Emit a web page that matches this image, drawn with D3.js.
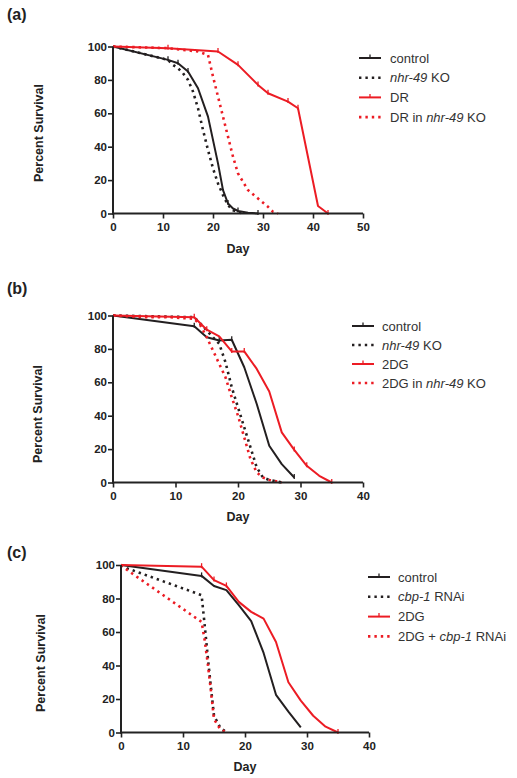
<!DOCTYPE html>
<html><head><meta charset="utf-8">
<script src="https://cdn.jsdelivr.net/npm/d3@7"></script>
<style>
body{margin:0;background:#fff;}
svg{font-family:"Liberation Sans",Arial,Helvetica,sans-serif;}
</style></head>
<body><svg id="chart" width="517" height="778"></svg>
<script>
// ---- Data ----
const yTicks = [0, 20, 40, 60, 80, 100];
const xTicksA = [0, 10, 20, 30, 40, 50];
const xTicksBC = [0, 10, 20, 30, 40];

// Panel (a)
const aControlDays = [0, 11, 13, 15, 17, 19, 21, 22, 23, 24, 25, 27, 29];
const aControlVals = [100, 92, 90, 85, 75, 58, 30, 14, 6, 3, 1.5, 0.5, 0];
const aKoDays = [0, 11, 12, 13, 14, 15, 16, 17, 18, 19, 20, 21, 22, 23, 24, 25, 26];
const aKoVals = [100, 92, 89, 87, 84, 80, 73, 63, 50, 38, 27, 18, 11, 5, 2, 1, 0];
const aDRDays = [0, 11, 21, 25, 29, 31, 35, 37, 41, 43];
const aDRVals = [100, 99, 97, 89, 77, 72, 67, 63, 4.5, 0];
const aDRKoDays = [0, 11, 17, 19, 20, 21, 22, 23, 24, 25, 27, 29, 31, 32, 33];
const aDRKoVals = [100, 99, 97, 95, 82, 70, 58, 46, 34, 24, 14, 9, 4, 1, 0];

// Panel (b)
const bControlDays = [0, 13, 15, 17, 19, 21, 23, 25, 27, 29];
const bControlVals = [100, 93.5, 87, 85, 85.5, 69, 47, 22, 11, 3];
const bKoDays = [0, 13, 15, 17, 18, 19, 20, 21, 22, 23, 24, 25, 27];
const bKoVals = [100, 99, 91, 83, 72, 57, 45, 33, 21, 9, 3, 1.5, 0];
const b2DGDays = [0, 13, 15, 17, 19, 21, 23, 25, 27, 29, 31, 33, 35];
const b2DGVals = [100, 99, 91.5, 87.5, 78.5, 78.5, 68, 54.5, 30, 19.5, 10, 4, 0];
const b2DGKoDays = [0, 5, 9, 13, 14, 15, 16, 17, 18, 19, 20, 21, 22, 23, 24, 25, 27];
const b2DGKoVals = [100, 99, 99, 98, 94, 87, 79, 71, 63, 51, 40, 27, 14, 6, 3, 1.5, 0];

// Panel (c)
const cControlDays = [0, 13, 15, 17, 19, 21, 23, 25, 27, 29];
const cControlVals = [100, 93.5, 87.5, 85, 76, 66.5, 47.5, 22.5, 12.5, 3];
const cRnaiDays = [0, 1, 13, 13.5, 14, 14.5, 15, 16, 17];
const cRnaiVals = [100, 98, 82, 64, 45, 27, 10, 3, 0];
const c2DGDays = [0, 13, 15, 17, 19, 21, 23, 25, 27, 29, 31, 33, 35];
const c2DGVals = [100, 99, 91, 87.5, 78, 72, 68, 54, 30, 19, 10, 3.5, 0];
const c2DGRnaiDays = [0, 1, 13, 13.5, 14, 14.5, 15, 16, 17];
const c2DGRnaiVals = [100, 97, 66, 55, 41, 25, 8, 2, 0];

// censor tick marks (days)
const aControlTicks = [11, 13, 15, 23, 25, 29];
const aDRTicks = [11, 21, 25, 29, 31, 35, 37, 43];
const bControlTicks = [13, 17, 19, 29];
const b2DGTicks = [5, 7, 9, 11, 13, 15, 19, 21, 29, 31, 35];
const cControlTicks = [13];
const c2DGTicks = [13, 15, 17, 35];

const legendA = ["control", "nhr-49 KO", "DR", "DR in nhr-49 KO"];
const legendB = ["control", "nhr-49 KO", "2DG", "2DG in nhr-49 KO"];
const legendC = ["control", "cbp-1 RNAi", "2DG", "2DG + cbp-1 RNAi"];

const BLACK = "#231f20", RED = "#ec1c24";

const panels = [
  {label: "(a)", labelY: 20, x0: 113, x1: 363, y0: 213.5, y1: 46.5, xmax: 50, xTicks: xTicksA,
   dayY: 253, ylabX: 40, ylabY: 133,
   series: [
     {d: aControlDays, v: aControlVals, c: BLACK, dash: false, t: aControlTicks},
     {d: aKoDays, v: aKoVals, c: BLACK, dash: true, t: []},
     {d: aDRDays, v: aDRVals, c: RED, dash: false, t: aDRTicks},
     {d: aDRKoDays, v: aDRKoVals, c: RED, dash: true, t: []}],
   legend: legendA, legX: 359, legText: 390, legY: 58, legDy: 19.7},
  {label: "(b)", labelY: 294, x0: 113, x1: 363, y0: 482.5, y1: 315.5, xmax: 40, xTicks: xTicksBC,
   dayY: 521, ylabX: 39, ylabY: 414,
   series: [
     {d: bControlDays, v: bControlVals, c: BLACK, dash: false, t: bControlTicks},
     {d: bKoDays, v: bKoVals, c: BLACK, dash: true, t: []},
     {d: b2DGDays, v: b2DGVals, c: RED, dash: false, t: b2DGTicks},
     {d: b2DGKoDays, v: b2DGKoVals, c: RED, dash: true, t: []}],
   legend: legendB, legX: 352, legText: 382, legY: 326, legDy: 19},
  {label: "(c)", labelY: 558, x0: 121, x1: 369, y0: 732.5, y1: 565, xmax: 40, xTicks: xTicksBC,
   dayY: 771, ylabX: 42, ylabY: 663,
   series: [
     {d: cControlDays, v: cControlVals, c: BLACK, dash: false, t: cControlTicks},
     {d: cRnaiDays, v: cRnaiVals, c: BLACK, dash: true, t: []},
     {d: c2DGDays, v: c2DGVals, c: RED, dash: false, t: c2DGTicks},
     {d: c2DGRnaiDays, v: c2DGRnaiVals, c: RED, dash: true, t: []}],
   legend: legendC, legX: 368, legText: 398, legY: 577, legDy: 19.8}
];

const svg = d3.select("#chart");

function legendText(sel, txt) {
  const m = txt.match(/(nhr-49|cbp-1)/);
  if (!m) { sel.text(txt); return; }
  const i = m.index;
  if (i > 0) sel.append("tspan").text(txt.slice(0, i));
  sel.append("tspan").attr("font-style", "italic").text(m[0]);
  sel.append("tspan").text(txt.slice(i + m[0].length));
}

panels.forEach(p => {
  const g = svg.append("g");
  const x = d3.scaleLinear().domain([0, p.xmax]).range([p.x0, p.x1]);
  const y = d3.scaleLinear().domain([0, 100]).range([p.y0, p.y1]);

  g.append("text").attr("x", 7).attr("y", p.labelY).attr("font-size", 16).attr("font-weight", "bold")
    .attr("fill", "#222").text(p.label);

  const line = d3.line().x(d => x(d[0])).y(d => y(d[1]));
  p.series.forEach(s => {
    const pts = s.d.map((d, i) => [d, s.v[i]]);
    g.append("path").datum(pts).attr("d", line).attr("fill", "none")
      .attr("stroke", s.c).attr("stroke-width", s.dash ? 2.6 : 2)
      .attr("stroke-linejoin", "round")
      .attr("stroke-dasharray", s.dash ? "2.4,4" : null);
    s.t.forEach(td => {
      const idx = s.d.indexOf(td);
      if (idx < 0) return;
      const yy = y(s.v[idx]);
      g.append("line").attr("x1", x(td)).attr("x2", x(td)).attr("y1", yy - 3.5).attr("y2", yy + 1.5)
        .attr("stroke", s.c).attr("stroke-width", 1.3);
    });
  });

  const xa = g.append("g").attr("transform", `translate(0,${p.y0})`)
    .call(d3.axisBottom(x).tickValues(p.xTicks).tickSize(5).tickSizeOuter(0).tickPadding(4));
  const ya = g.append("g").attr("transform", `translate(${p.x0},0)`)
    .call(d3.axisLeft(y).tickValues(yTicks).tickSize(5).tickSizeOuter(0).tickPadding(1));
  [xa, ya].forEach(a => {
    a.select(".domain").attr("stroke", "#222").attr("stroke-width", 2);
    a.selectAll(".tick line").attr("stroke", "#222").attr("stroke-width", 1.6);
    a.selectAll(".tick text").attr("font-size", 11.5).attr("font-weight", "bold")
      .attr("fill", "#222").attr("font-family", "Liberation Sans, Arial, sans-serif");
  });
  ya.select(".domain").attr("d", `M0,${p.y0 + 1}V${p.y1}`);
  xa.select(".domain").attr("d", `M${p.x0 - 1},0H${p.x1}`);

  g.append("text").attr("x", (p.x0 + p.x1) / 2).attr("y", p.dayY).attr("text-anchor", "middle")
    .attr("font-size", 12.5).attr("font-weight", "bold").attr("fill", "#222").text("Day");
  g.append("text").attr("transform", `translate(${p.ylabX},${p.ylabY}) rotate(-90)`)
    .attr("text-anchor", "middle").attr("dominant-baseline", "middle")
    .attr("font-size", 12.5).attr("font-weight", "bold").attr("fill", "#222").text("Percent Survival");

  p.legend.forEach((txt, i) => {
    const s = p.series[i];
    const ly = p.legY + i * p.legDy;
    g.append("line").attr("x1", p.legX).attr("x2", p.legX + 22).attr("y1", ly).attr("y2", ly)
      .attr("stroke", s.c).attr("stroke-width", s.dash ? 2.6 : 2)
      .attr("stroke-dasharray", s.dash ? "2.4,4" : null);
    if (!s.dash) {
      g.append("line").attr("x1", p.legX + 11).attr("x2", p.legX + 11).attr("y1", ly - 3.5).attr("y2", ly)
        .attr("stroke", s.c).attr("stroke-width", 1.3);
    }
    const t = g.append("text").attr("x", p.legText).attr("y", ly).attr("dy", "0.35em")
      .attr("font-size", 13).attr("fill", "#333");
    legendText(t, txt);
  });
});
</script></body></html>
